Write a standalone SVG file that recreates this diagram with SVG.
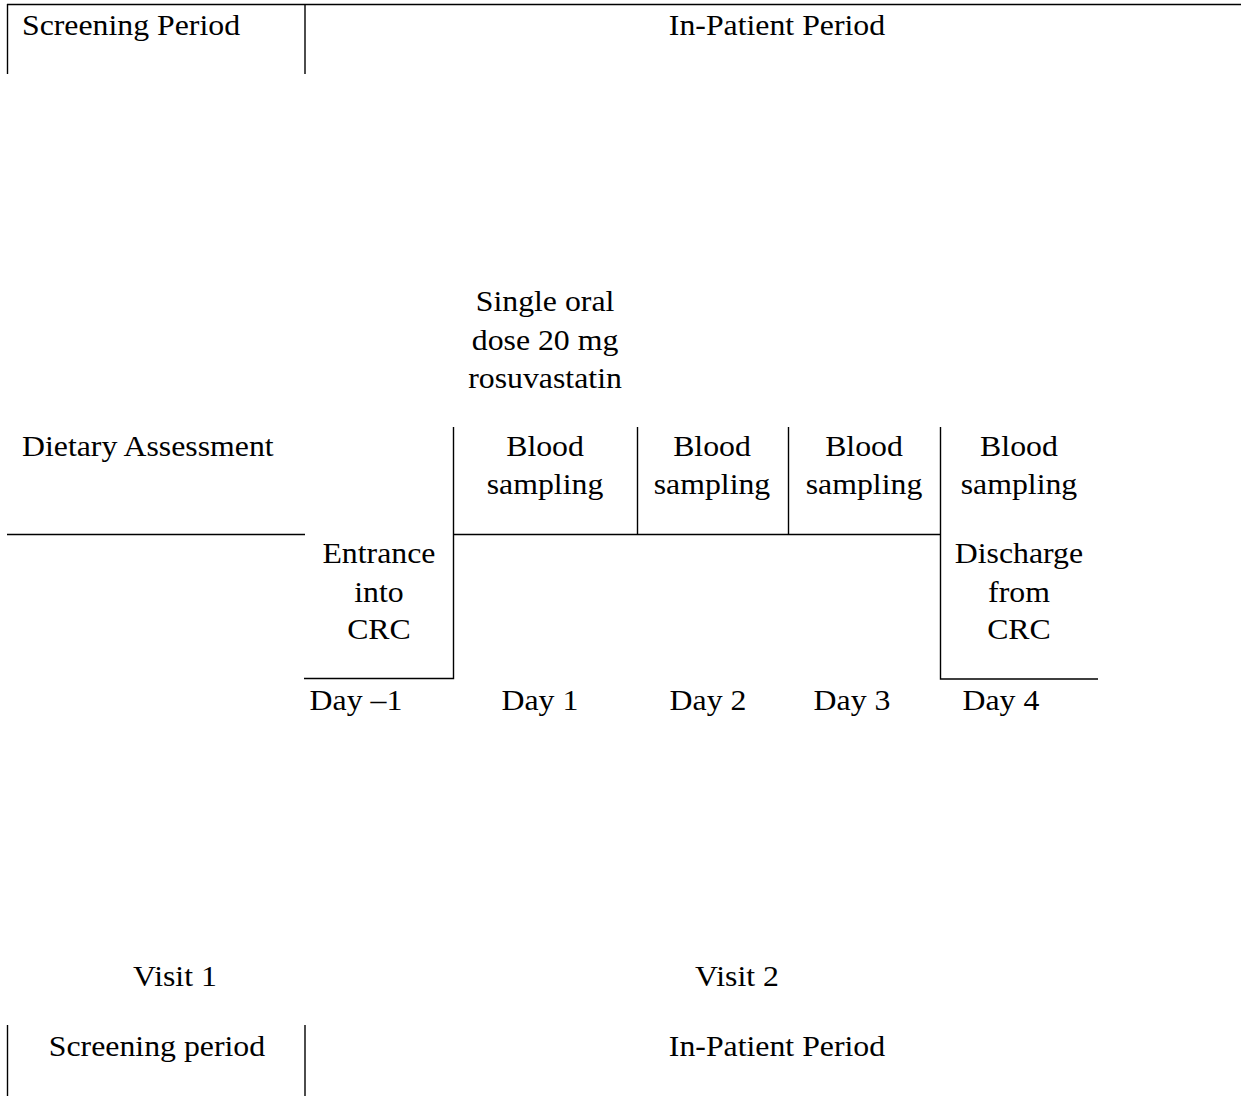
<svg xmlns="http://www.w3.org/2000/svg" width="1248" height="1096" viewBox="0 0 1248 1096">
<style>
text{font-family:"Liberation Serif","Times New Roman",serif;font-size:30px;fill:#000}
.c{text-anchor:middle}
line,polyline{stroke:#000;stroke-width:1.4;fill:none}
</style>
<rect width="1248" height="1096" fill="#fff"/>
<g id="connectors">
<line x1="7" y1="4.5" x2="1241" y2="4.5"/>
<line x1="7.5" y1="4" x2="7.5" y2="74"/>
<line x1="305" y1="4" x2="305" y2="74"/>
<line x1="7" y1="534.5" x2="305" y2="534.5"/>
<polyline points="304,678.5 453.5,678.5 453.5,427"/>
<line x1="453" y1="534.5" x2="940.5" y2="534.5"/>
<line x1="637.5" y1="427" x2="637.5" y2="534"/>
<line x1="788.5" y1="427" x2="788.5" y2="534"/>
<polyline points="940.5,427 940.5,679 1098,679"/>
<line x1="7.5" y1="1025" x2="7.5" y2="1096"/>
<line x1="305" y1="1025" x2="305" y2="1096"/>
</g>
<g transform="scale(1.06 1)">
<g id="screening-top"><text x="20.75" y="35">Screening Period</text></g>
<g id="inpatient-top"><text class="c" x="733" y="35">In-Patient Period</text></g>
<g id="dose"><text class="c" x="514.2" y="311">Single oral</text><text class="c" x="514.2" y="350">dose 20 mg</text><text class="c" x="514.2" y="388">rosuvastatin</text></g>
<g id="dietary"><text x="20.75" y="456">Dietary Assessment</text></g>
<g id="blood1"><text class="c" x="514.2" y="456">Blood</text><text class="c" x="514.2" y="494">sampling</text></g>
<g id="blood2"><text class="c" x="671.7" y="456">Blood</text><text class="c" x="671.7" y="494">sampling</text></g>
<g id="blood3"><text class="c" x="815.1" y="456">Blood</text><text class="c" x="815.1" y="494">sampling</text></g>
<g id="blood4"><text class="c" x="961.3" y="456">Blood</text><text class="c" x="961.3" y="494">sampling</text></g>
<g id="entrance"><text class="c" x="357.5" y="563">Entrance</text><text class="c" x="357.5" y="602">into</text><text class="c" x="357.5" y="639">CRC</text></g>
<g id="discharge"><text class="c" x="961.3" y="563">Discharge</text><text class="c" x="961.3" y="602">from</text><text class="c" x="961.3" y="639">CRC</text></g>
<g id="day-1"><text class="c" x="335.8" y="710">Day –1</text></g>
<g id="day1"><text class="c" x="509.4" y="710">Day 1</text></g>
<g id="day2"><text class="c" x="667.9" y="710">Day 2</text></g>
<g id="day3"><text class="c" x="803.8" y="710">Day 3</text></g>
<g id="day4"><text class="c" x="944.3" y="710">Day 4</text></g>
<g id="visit1"><text class="c" x="165.1" y="986">Visit 1</text></g>
<g id="visit2"><text class="c" x="695.3" y="986">Visit 2</text></g>
<g id="screening-bottom"><text class="c" x="148.1" y="1056">Screening period</text></g>
<g id="inpatient-bottom"><text class="c" x="733" y="1056">In-Patient Period</text></g>
</g>
</svg>
